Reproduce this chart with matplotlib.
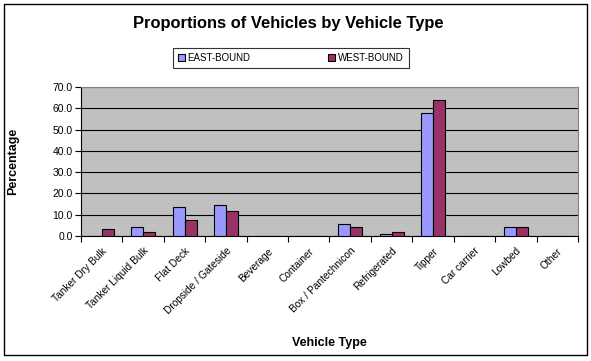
import numpy as np
import matplotlib
matplotlib.use("Agg")
import matplotlib.pyplot as plt

plt.rcParams['font.family'] = ['Liberation Sans', 'DejaVu Sans']

categories = ["Tanker Dry Bulk", "Tanker Liquid Bulk", "Flat Deck", "Dropside / Gateside",
              "Beverage", "Container", "Box / Pantechnicon", "Refrigerated", "Tipper",
              "Car carrier", "Lowbed", "Other"]
east_bound = [0.0, 4.2, 13.7, 14.6, 0.0, 0.0, 5.7, 0.8, 57.8, 0.0, 4.2, 0.0]
west_bound = [3.2, 1.8, 7.6, 11.6, 0.0, 0.0, 4.2, 1.8, 64.0, 0.0, 4.2, 0.0]
y_ticks = [0, 10, 20, 30, 40, 50, 60, 70]

fig = plt.figure(figsize=(5.91, 3.61), dpi=100)

# outer chart frame
fig.patches.append(plt.Rectangle((0.006, 0.017), 0.987, 0.972, transform=fig.transFigure,
                                 fill=False, edgecolor='black', linewidth=1.0))

ax = fig.add_axes([0.137, 0.346, 0.841, 0.413])
ax.set_facecolor('#C0C0C0')

x = np.arange(len(categories))
w = 0.29
ax.bar(x - w / 2, east_bound, w, color='#9999FF', edgecolor='black', linewidth=0.8,
       label='EAST-BOUND', zorder=3)
ax.bar(x + w / 2, west_bound, w, color='#993366', edgecolor='black', linewidth=0.8,
       label='WEST-BOUND', zorder=3)

ax.set_xlim(-0.5, len(categories) - 0.5)
ax.set_ylim(0, 70)
ax.set_yticks(y_ticks)
ax.set_yticklabels([f"{v:.1f}" for v in y_ticks], fontsize=7.5)
ax.yaxis.grid(True, color='black', linewidth=0.8, zorder=1)
ax.tick_params(axis='y', length=4, width=0.8, pad=2)

ax.set_xticks(x)
ax.set_xticklabels(categories, rotation=45, ha='right', rotation_mode='anchor', fontsize=7.3)
ax.tick_params(axis='x', which='major', length=0, pad=7)
ax.set_xticks(np.arange(len(categories) + 1) - 0.5, minor=True)
ax.tick_params(axis='x', which='minor', length=4, width=0.8)

for side in ['top', 'right']:
    ax.spines[side].set_color('#808080')
for side in ['left', 'bottom']:
    ax.spines[side].set_color('black')

ax.set_ylabel("Percentage", fontsize=9, fontweight='bold')
ax.yaxis.set_label_coords(-0.125, 0.5)
fig.text(0.558, 0.042, "Vehicle Type", fontsize=9, fontweight='bold', ha='center')
fig.text(0.488, 0.936, "Proportions of Vehicles by Vehicle Type", fontsize=11.9,
         fontweight='bold', ha='center', va='center')

leg = fig.legend(loc='center', bbox_to_anchor=(0.492, 0.839), ncol=2, fontsize=7,
                 frameon=True, fancybox=False, edgecolor='black', handlelength=0.7,
                 handleheight=0.7, handletextpad=0.3, columnspacing=8.0,
                 borderpad=0.5, borderaxespad=0)
leg.get_frame().set_linewidth(0.8)

fig.savefig("out.png", dpi=100)
